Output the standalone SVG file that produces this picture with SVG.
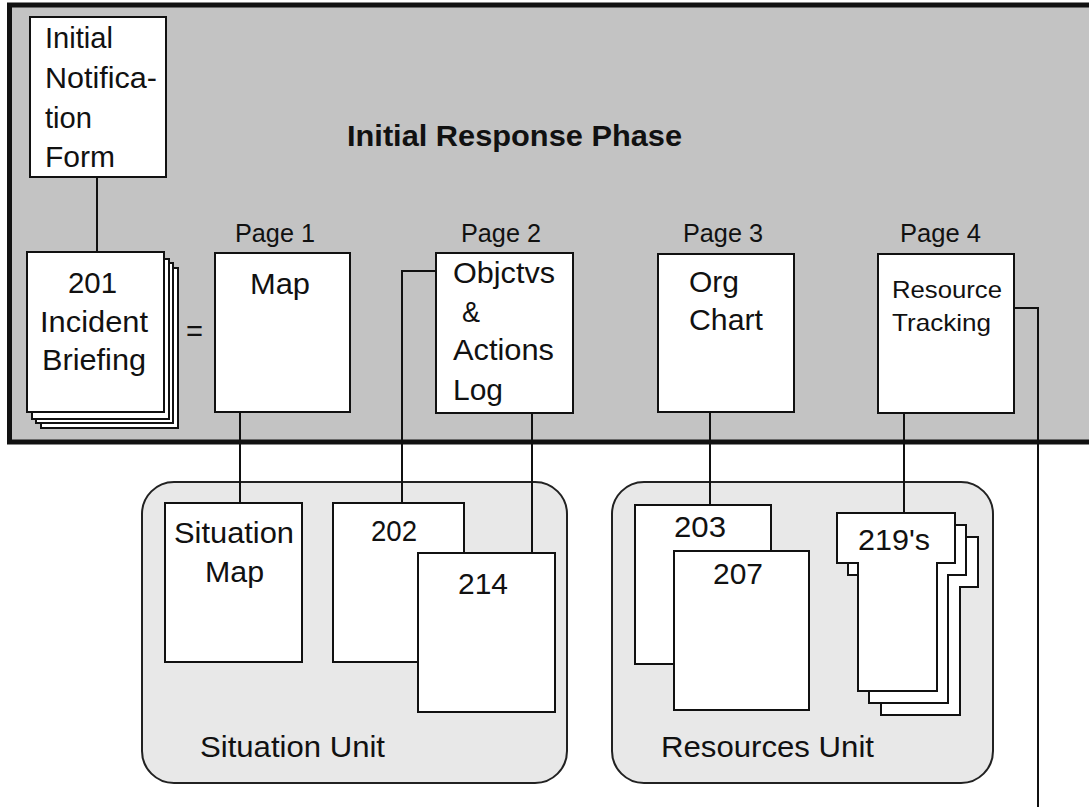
<svg xmlns="http://www.w3.org/2000/svg" width="1089" height="807" viewBox="0 0 1089 807">
  <style>
    .t { font-family: "Liberation Sans", Arial, sans-serif; font-size: 30px; fill: #111; }
    .num { font-size: 30px; }
    .pg { font-size: 25px; }
    .sm { font-size: 24px; }
    .title { font-size: 30px; font-weight: bold; }
    .box { fill: #fff; stroke: #111; stroke-width: 2; }
    .unit { fill: #e8e8e8; stroke: #222; stroke-width: 2; }
    .wire { fill: none; stroke: #111; stroke-width: 2; }
  </style>

  <rect width="1089" height="807" fill="#fff"/>

  <!-- Phase panel -->
  <g id="initial-response-phase">
    <rect x="9.5" y="5" width="1100" height="437" fill="#c3c3c3" stroke="#111" stroke-width="5"/>
    <text class="t title" x="347" y="146" textLength="335" lengthAdjust="spacingAndGlyphs">Initial Response Phase</text>
  </g>

  <!-- Unit panels -->
  <g id="situation-unit">
    <rect class="unit" x="142" y="482" width="425" height="301" rx="32"/>
    <text class="t" x="200" y="757" textLength="185" lengthAdjust="spacingAndGlyphs">Situation Unit</text>
  </g>
  <g id="resources-unit">
    <rect class="unit" x="612" y="482" width="381" height="301" rx="32"/>
    <text class="t" x="661" y="757" textLength="213" lengthAdjust="spacingAndGlyphs">Resources Unit</text>
  </g>

  <!-- Connectors -->
  <g id="connectors">
    <path class="wire" d="M97,177 V252"/>
    <path class="wire" d="M240,412 V503"/>
    <path class="wire" d="M447,271 H402 V503"/>
    <path class="wire" d="M513,395 H532 V553"/>
    <path class="wire" d="M710,412 V505"/>
    <path class="wire" d="M904,413 V513"/>
    <path class="wire" d="M1014,308 H1038 V807"/>
  </g>

  <g id="initial-notification-form">
    <rect class="box" x="30" y="17" width="136" height="160"/>
    <text class="t" x="45" y="48" textLength="68" lengthAdjust="spacingAndGlyphs">Initial</text>
    <text class="t" x="45" y="88" textLength="112" lengthAdjust="spacingAndGlyphs">Notifica-</text>
    <text class="t" x="45" y="128" textLength="47" lengthAdjust="spacingAndGlyphs">tion</text>
    <text class="t" x="45" y="167" textLength="70" lengthAdjust="spacingAndGlyphs">Form</text>
  </g>

  <g id="incident-briefing-201">
    <rect class="box" x="41" y="268" width="137" height="160"/>
    <rect class="box" x="36" y="263" width="137" height="160"/>
    <rect class="box" x="32" y="259" width="137" height="160"/>
    <rect class="box" x="27" y="252" width="137" height="160"/>
    <text class="t num" x="68" y="293" textLength="49" lengthAdjust="spacingAndGlyphs">201</text>
    <text class="t" x="40" y="332" textLength="108" lengthAdjust="spacingAndGlyphs">Incident</text>
    <text class="t" x="42" y="370" textLength="104" lengthAdjust="spacingAndGlyphs">Briefing</text>
  </g>

  <g id="equals">
    <text class="t" x="186" y="341" textLength="17" lengthAdjust="spacingAndGlyphs">=</text>
  </g>

  <g id="page-1-map">
    <text class="t pg" x="235" y="242" textLength="80" lengthAdjust="spacingAndGlyphs">Page 1</text>
    <rect class="box" x="215" y="253" width="135" height="159"/>
    <text class="t" x="250" y="294" textLength="60" lengthAdjust="spacingAndGlyphs">Map</text>
  </g>

  <g id="page-2-objectives">
    <text class="t pg" x="461" y="242" textLength="80" lengthAdjust="spacingAndGlyphs">Page 2</text>
    <rect class="box" x="436" y="253" width="137" height="160"/>
    <text class="t" x="453" y="283" textLength="102" lengthAdjust="spacingAndGlyphs">Objctvs</text>
    <text class="t" x="462" y="322" textLength="18" lengthAdjust="spacingAndGlyphs">&amp;</text>
    <text class="t" x="453" y="360" textLength="101" lengthAdjust="spacingAndGlyphs">Actions</text>
    <text class="t" x="453" y="400" textLength="50" lengthAdjust="spacingAndGlyphs">Log</text>
  </g>

  <g id="page-3-org-chart">
    <text class="t pg" x="683" y="242" textLength="80" lengthAdjust="spacingAndGlyphs">Page 3</text>
    <rect class="box" x="658" y="254" width="136" height="158"/>
    <text class="t" x="689" y="292" textLength="50" lengthAdjust="spacingAndGlyphs">Org</text>
    <text class="t" x="689" y="330" textLength="74" lengthAdjust="spacingAndGlyphs">Chart</text>
  </g>

  <g id="page-4-resource-tracking">
    <text class="t pg" x="900" y="242" textLength="81" lengthAdjust="spacingAndGlyphs">Page 4</text>
    <rect class="box" x="878" y="254" width="136" height="159"/>
    <text class="t sm" x="892" y="298" textLength="110" lengthAdjust="spacingAndGlyphs">Resource</text>
    <text class="t sm" x="892" y="331" textLength="99" lengthAdjust="spacingAndGlyphs">Tracking</text>
  </g>

  <g id="situation-map">
    <rect class="box" x="165" y="503" width="137" height="159"/>
    <text class="t" x="174" y="543" textLength="120" lengthAdjust="spacingAndGlyphs">Situation</text>
    <text class="t" x="205" y="582" textLength="59" lengthAdjust="spacingAndGlyphs">Map</text>
  </g>

  <g id="form-202">
    <rect class="box" x="333" y="503" width="131" height="159"/>
    <text class="t num" x="371" y="541" font-size="32" textLength="46" lengthAdjust="spacingAndGlyphs">202</text>
  </g>

  <g id="form-214">
    <rect class="box" x="418" y="553" width="137" height="159"/>
    <text class="t num" x="458" y="594" textLength="50" lengthAdjust="spacingAndGlyphs">214</text>
  </g>

  <g id="form-203">
    <rect class="box" x="635" y="505" width="136" height="159"/>
    <text class="t num" x="674" y="537" textLength="52" lengthAdjust="spacingAndGlyphs">203</text>
  </g>

  <g id="form-207">
    <rect class="box" x="674" y="551" width="135" height="159"/>
    <text class="t num" x="713" y="584" textLength="50" lengthAdjust="spacingAndGlyphs">207</text>
  </g>

  <g id="forms-219">
    <defs>
      <path id="card219" d="M837,513 H955 V563 H937 V691 H858 V563 H837 Z"/>
    </defs>
    <use href="#card219" class="box" transform="translate(23,24)"/>
    <use href="#card219" class="box" transform="translate(11,12)"/>
    <use href="#card219" class="box"/>
    <text class="t num" x="858" y="550" textLength="72" lengthAdjust="spacingAndGlyphs">219's</text>
  </g>
</svg>
